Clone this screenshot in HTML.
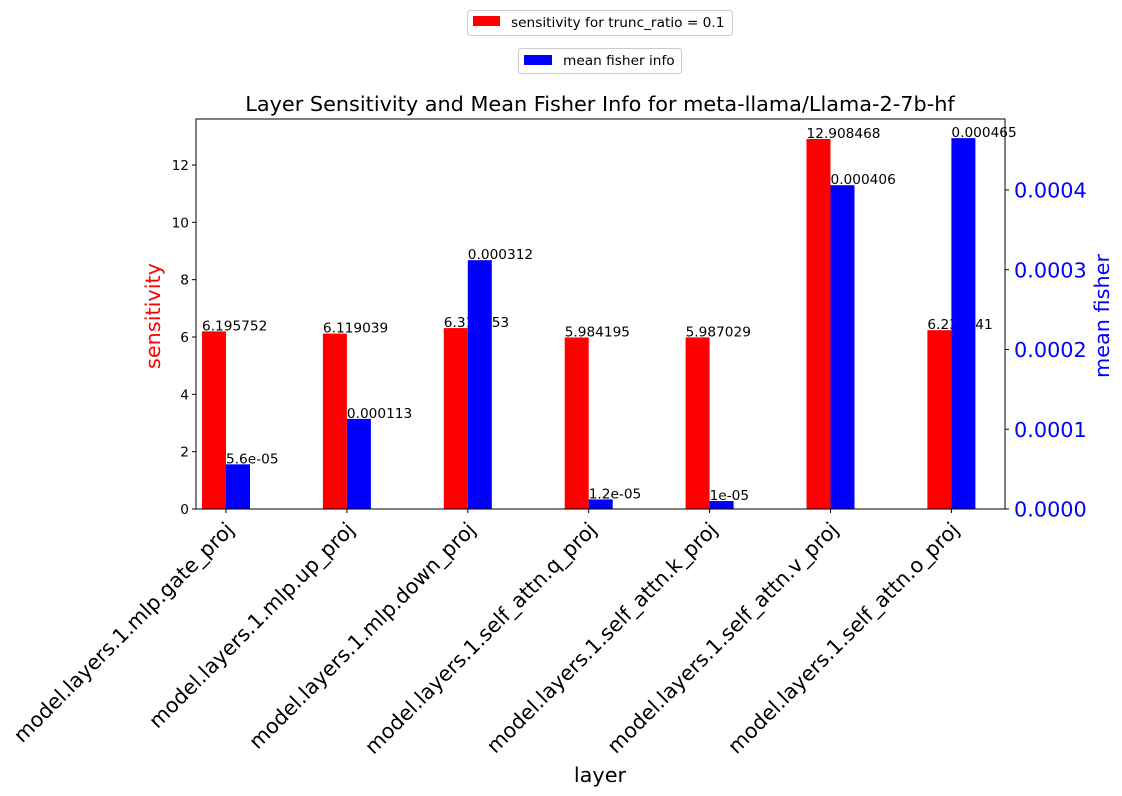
<!DOCTYPE html>
<html><head><meta charset="utf-8"><style>
body{margin:0;background:#fff;}
svg{display:block;font-family:"DejaVu Sans","Liberation Sans",sans-serif;}
</style></head><body>
<svg id="chart" width="1122" height="796" xmlns="http://www.w3.org/2000/svg"></svg>
<script>
const categories=["model.layers.1.mlp.gate_proj","model.layers.1.mlp.up_proj","model.layers.1.mlp.down_proj","model.layers.1.self_attn.q_proj","model.layers.1.self_attn.k_proj","model.layers.1.self_attn.v_proj","model.layers.1.self_attn.o_proj"];
const sensitivity=[6.195752,6.119039,6.310753,5.984195,5.987029,12.908468,6.237841];
const sensLabels=["6.195752","6.119039","6.310753","5.984195","5.987029","12.908468","6.237841"];
const fisher=[0.000056,0.000113,0.000312,0.000012,0.00001,0.000406,0.000465];
const fisherLabels=["5.6e-05","0.000113","0.000312","1.2e-05","1e-05","0.000406","0.000465"];
const leftTicks=[0,2,4,6,8,10,12];
const rightTicks=[0,0.0001,0.0002,0.0003,0.0004];
const rightTickLabels=["0.0000","0.0001","0.0002","0.0003","0.0004"];

const svg=document.getElementById('chart');
const NS="http://www.w3.org/2000/svg";
const L=196,R=1005,T=119,B=509;
const yL=v=>B-v*(344/12);
const yR=v=>B-v*(319/0.0004);
const xC=i=>226+i*120.9;
const bw=24;
function mk(tag,attrs,text){const e=document.createElementNS(NS,tag);for(const k in attrs)e.setAttribute(k,attrs[k]);if(text!==undefined)e.textContent=text;svg.appendChild(e);return e;}

let e;
e=mk('text',{x:600,y:111,'text-anchor':'middle','font-size':20.8},'Layer Sensitivity and Mean Fisher Info for meta-llama/Llama-2-7b-hf');



sensitivity.forEach((v,i)=>{
  const b=mk('rect',{x:xC(i)-bw,y:yL(v),width:bw,height:B-yL(v),fill:'#ff0000'});
  
  
  const t=mk('text',{x:xC(i)-bw,y:yL(v)-1,'font-size':13.7},sensLabels[i]);
  
  
});
fisher.forEach((v,i)=>{
  const b=mk('rect',{x:xC(i),y:yR(v),width:bw,height:B-yR(v),fill:'#0000ff'});
  
  
});
fisher.forEach((v,i)=>{
  const t=mk('text',{x:xC(i),y:yR(v)-1,'font-size':13.7},fisherLabels[i]);
  
  
});
e=mk('rect',{x:L,y:T,width:R-L,height:B-T,fill:'none',stroke:'#000','stroke-width':1});


leftTicks.forEach(v=>{
  mk('line',{x1:L-4,x2:L,y1:yL(v),y2:yL(v),stroke:'#000'});
  const t=mk('text',{x:L-7,y:yL(v)+5,'font-size':13.7,'text-anchor':'end'},String(v));
  
  
});
rightTicks.forEach((v,i)=>{
  mk('line',{x1:R,x2:R+4,y1:yR(v),y2:yR(v),stroke:'#000'});
  const t=mk('text',{x:R+9,y:yR(v)+7.5,'font-size':20.8,fill:'#0000ff'},rightTickLabels[i]);
  
  
});
categories.forEach((c,i)=>{
  mk('line',{x1:xC(i),x2:xC(i),y1:B,y2:B+4,stroke:'#000'});
  const ax=xC(i)+9, ay=B+22;
  const t=mk('text',{x:ax,y:ay,'font-size':20.6,'text-anchor':'end',transform:`rotate(-45 ${ax} ${ay})`},c);
  
  
});
e=mk('text',{x:600,y:782,'text-anchor':'middle','font-size':20.8},'layer');


e=mk('text',{x:160,y:316,'text-anchor':'middle','font-size':20.8,fill:'#ff0000',transform:'rotate(-90 160 316)'},'sensitivity');


e=mk('text',{x:1109,y:316,'text-anchor':'middle','font-size':20.8,fill:'#0000ff',transform:'rotate(-90 1109 316)'},'mean fisher');


e=mk('rect',{x:467.5,y:10.5,width:265,height:25,rx:3,fill:'#fff',stroke:'#ccc'});


mk('rect',{x:473,y:16,width:27,height:10,fill:'#ff0000'});
e=mk('text',{x:511,y:27,'font-size':13.7},'sensitivity for trunc_ratio = 0.1');


e=mk('rect',{x:518.5,y:48.5,width:163,height:25,rx:3,fill:'#fff',stroke:'#ccc'});


mk('rect',{x:524,y:55,width:28,height:10,fill:'#0000ff'});
e=mk('text',{x:563,y:65,'font-size':13.7},'mean fisher info');


</script>
</body></html>
